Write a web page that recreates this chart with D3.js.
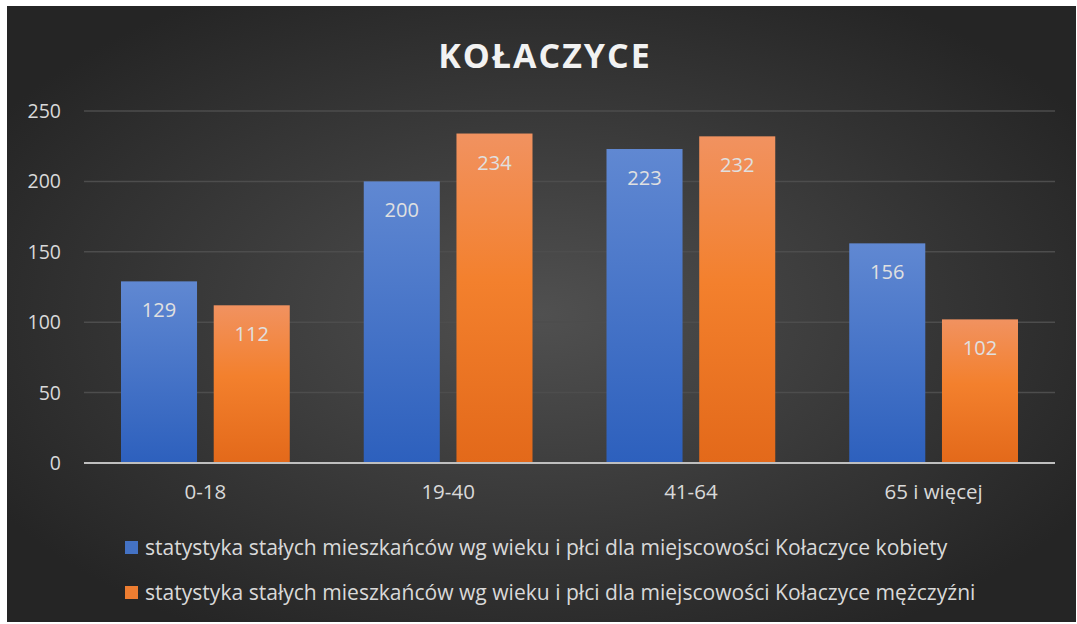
<!DOCTYPE html>
<meta charset="utf-8">
<style>
body { margin: 0; background: #fff; }
text { font-family: "Open Sans", Lato, sans-serif; }
</style>
<body>
<script src="https://d3js.org/d3.v7.min.js"></script>
<script>

// chart data
var categories = ["0-18", "19-40", "41-64", "65 i więcej"];
var kobiety = [129, 200, 223, 156];
var mezczyzni = [112, 234, 232, 102];
var seriesNames = [
  "statystyka stałych mieszkańców wg wieku i płci dla miejscowości Kołaczyce kobiety",
  "statystyka stałych mieszkańców wg wieku i płci dla miejscowości Kołaczyce mężczyźni"
];
var yTicks = [0, 50, 100, 150, 200, 250];

var W = 1077, H = 624;
var margin = {top: 111, left: 84, right: 22, bottom: 161};

var svg = d3.select("body").append("svg")
    .attr("width", W)
    .attr("height", H);

var defs = svg.append("defs");
var bg = defs.append("radialGradient").attr("id", "bg")
    .attr("cx", "50%").attr("cy", "50%").attr("r", "60%");
bg.append("stop").attr("offset", "0%").attr("stop-color", "#505050");
bg.append("stop").attr("offset", "100%").attr("stop-color", "#252525");

var gb = defs.append("linearGradient").attr("id", "gblue")
    .attr("x1", 0).attr("y1", 0).attr("x2", 0).attr("y2", 1);
gb.append("stop").attr("offset", "0%").attr("stop-color", "#6088d2");
gb.append("stop").attr("offset", "100%").attr("stop-color", "#2d60bd");

var go = defs.append("linearGradient").attr("id", "gorange")
    .attr("x1", 0).attr("y1", 0).attr("x2", 0).attr("y2", 1);
go.append("stop").attr("offset", "0%").attr("stop-color", "#f19260");
go.append("stop").attr("offset", "45%").attr("stop-color", "#f3802d");
go.append("stop").attr("offset", "100%").attr("stop-color", "#e3691a");

var colors = ["url(#gblue)", "url(#gorange)"];
var legendColors = ["#4472c4", "#ed7d31"];

svg.append("rect")
    .attr("x", 7).attr("y", 6)
    .attr("width", 1069).attr("height", 616)
    .attr("fill", "url(#bg)");

var width = W - margin.left - margin.right,
    height = H - margin.top - margin.bottom;

var g = svg.append("g")
    .attr("transform", "translate(" + margin.left + "," + margin.top + ")");

var x = d3.scaleBand().domain(categories).range([0, width]);
var x1 = d3.scaleBand().domain([0, 1]).range([37, x.bandwidth() - 37]).paddingInner(0.18);
var y = d3.scaleLinear().domain([0, 250]).range([height, 0]);

// gridlines
g.selectAll("line.grid")
    .data(yTicks.slice(1))
  .enter().append("line")
    .attr("class", "grid")
    .attr("x1", 0).attr("x2", width)
    .attr("y1", function(d) { return y(d); })
    .attr("y2", function(d) { return y(d); })
    .attr("stroke", "#4d4d4d")
    .attr("stroke-width", 1.5);

// y labels
g.selectAll("text.ytick")
    .data(yTicks)
  .enter().append("text")
    .attr("class", "ytick")
    .attr("x", -23)
    .attr("y", function(d) { return y(d) + 7; })
    .attr("text-anchor", "end")
    .attr("fill", "#d9d9d9")
    .style("font-size", "19.5px")
    .text(function(d) { return d; });

var data = [];
categories.forEach(function(c, i) {
  data.push({cat: c, s: 0, v: kobiety[i]});
  data.push({cat: c, s: 1, v: mezczyzni[i]});
});

g.selectAll("rect.bar")
    .data(data)
  .enter().append("rect")
    .attr("class", "bar")
    .attr("x", function(d) { return x(d.cat) + x1(d.s); })
    .attr("width", x1.bandwidth())
    .attr("y", function(d) { return y(d.v); })
    .attr("height", function(d) { return height - y(d.v); })
    .attr("fill", function(d) { return colors[d.s]; });

g.selectAll("text.val")
    .data(data)
  .enter().append("text")
    .attr("class", "val")
    .attr("text-anchor", "middle")
    .attr("x", function(d) { return x(d.cat) + x1(d.s) + x1.bandwidth() / 2; })
    .attr("y", function(d) { return y(d.v) + 36; })
    .attr("fill", "#e0e0e0")
    .style("font-size", "20px")
    .text(function(d) { return d.v; });

// x axis line
g.append("line")
    .attr("x1", 0).attr("x2", width)
    .attr("y1", height).attr("y2", height)
    .attr("stroke", "#bfbfbf")
    .attr("stroke-width", 2);

g.selectAll("text.xtick")
    .data(categories)
  .enter().append("text")
    .attr("class", "xtick")
    .attr("text-anchor", "middle")
    .attr("x", function(d) { return x(d) + x.bandwidth() / 2; })
    .attr("y", height + 36)
    .attr("fill", "#d9d9d9")
    .style("font-size", "20.5px")
    .text(function(d) { return d; });

// title
svg.append("text")
    .attr("x", 545)
    .attr("y", 68)
    .attr("text-anchor", "middle")
    .attr("fill", "#f2f2f2")
    .style("font-size", "34px")
    .style("font-weight", "bold")
    .style("letter-spacing", "2px")
    .text("KOŁACZYCE");

// legend
var leg = svg.selectAll("g.legend")
    .data(seriesNames)
  .enter().append("g")
    .attr("class", "legend")
    .attr("transform", function(d, i) { return "translate(125," + (541 + i * 45) + ")"; });

leg.append("rect")
    .attr("width", 13).attr("height", 13)
    .attr("fill", function(d, i) { return legendColors[i]; });

var legText = leg.append("text")
    .attr("x", 20)
    .attr("y", 14)
    .attr("fill", "#d9d9d9")
    .style("font-size", "18px")
    .text(function(d) { return d; });

// fit first legend line to ~803px like the original
var w0 = legText.node().getComputedTextLength();
legText.style("font-size", (18 * 803 / w0) + "px");

</script>
</body>
